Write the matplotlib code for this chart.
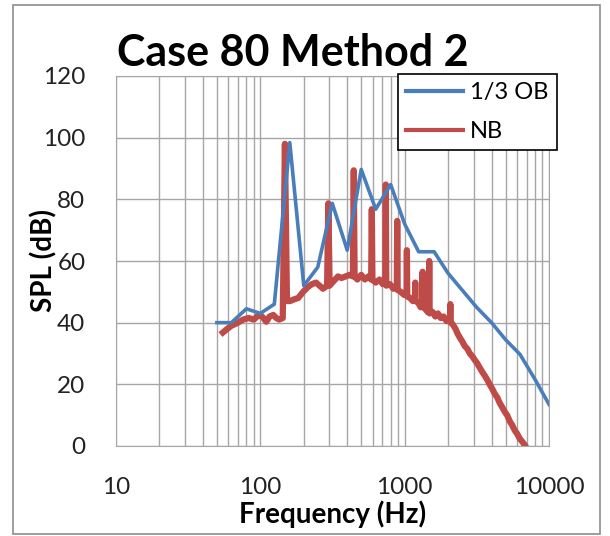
import matplotlib
matplotlib.use('Agg')
import matplotlib.pyplot as plt
from matplotlib.patches import Rectangle
from matplotlib.ticker import LogLocator, NullFormatter, FixedLocator

plt.rcParams['font.family'] = ['Lato', 'DejaVu Sans']

# 1/3 octave band levels
ob_freq = [50, 63, 80, 100, 125, 160, 200, 250, 315, 400, 500, 630, 800, 1000,
           1250, 1600, 2000, 2500, 3150, 4000, 5000, 6300, 8000, 10000]
ob_spl = [40, 40, 44.5, 43, 46, 98.4, 52, 58, 78.7, 63.5, 89.7, 76.8, 84.8, 72,
          63, 63, 56, 50.6, 45, 40, 34.5, 29.7, 21.6, 13.5]

# narrowband spectrum (tonal peaks at blade-pass harmonics)
nb_freq = [55, 59, 63, 70, 76, 83, 90, 95, 100, 105, 110, 116, 123, 129, 135, 143,
           148, 153, 160, 170, 183, 198, 214, 228, 243, 257, 272, 290,
           296, 302, 315, 330, 345, 365, 390, 415, 438,
           444, 450, 470, 500, 530, 560, 586,
           592, 598, 630, 670, 705, 734,
           740, 746, 790, 835, 882,
           888, 894, 940, 990, 1030,
           1036, 1042, 1090, 1140, 1178,
           1184, 1190, 1240, 1290, 1326,
           1332, 1338, 1390, 1440, 1474,
           1480, 1486, 1560, 1630, 1700, 1780, 1860, 1950, 2060,
           2072, 2084, 2150, 2250, 2323, 2420, 2500, 2600, 2719, 2830, 2950, 3070,
           3184, 3320, 3450, 3590, 3730, 3900, 4050, 4200, 4374, 4550, 4750, 4950,
           5128, 5350, 5550, 5800, 6012, 6250, 6500, 6800, 7046]
nb_spl = [36.8, 38, 39, 40, 41, 41.5, 41, 42, 42.5, 41.5, 40.3, 42, 42.5, 41.5, 41, 41.5,
          98, 47, 47, 47.5, 48, 50, 51.6, 52.5, 53, 52, 51, 52,
          78.7, 52, 53, 54, 55, 54.5, 55, 55.5, 55,
          89.4, 55, 54, 55.5, 54, 55, 54,
          76.8, 54, 53, 54, 52.5, 53,
          84.8, 52, 52.5, 51, 51.5,
          73, 50.6, 50, 49, 50,
          63.5, 48.5, 48, 47, 48,
          53, 47, 46.5, 45, 46,
          56.5, 45, 44.5, 43.5, 44,
          60, 43, 43.5, 42, 43, 41.5, 42, 40.5, 41,
          46, 40, 39.5, 38, 36.5, 35, 34, 32.5, 31.5, 30, 29, 27.8,
          26.8, 25.3, 24, 22.8, 21.5, 19.8, 18.5, 17, 15.8, 14, 12.5, 11,
          10, 8, 6.8, 5, 4, 2.5, 1.5, 0.3, -1]

blue = '#4a7ebb'
red = '#be4b48'

fig = plt.figure(figsize=(6.1, 5.36), dpi=100)
fig.patches.append(Rectangle((13 / 610, 2 / 536), 587 / 610, 529 / 536,
                             transform=fig.transFigure, fill=False,
                             edgecolor='#8c8c8c', linewidth=1.2))

ax = fig.add_axes([116 / 610, 1 - 446 / 536, 433 / 610, 370 / 536])
ax.plot(ob_freq, ob_spl, color=blue, linewidth=2.6, label='1/3 OB', zorder=3)
ax.plot(nb_freq, nb_spl, color=red, linewidth=4.5, label='NB', zorder=2)

ax.set_xscale('log')
ax.set_xlim(10, 10000)
ax.set_ylim(0, 120)
ax.yaxis.set_major_locator(FixedLocator([0, 20, 40, 60, 80, 100, 120]))
ax.xaxis.set_major_locator(LogLocator(base=10))
ax.xaxis.set_minor_locator(LogLocator(base=10, subs=range(2, 10)))
ax.xaxis.set_minor_formatter(NullFormatter())
ax.set_xticks([10, 100, 1000, 10000])
ax.set_xticklabels(['10', '100', '1000', '10000'])
ax.grid(True, which='both', axis='x', color='#a6a6a6', linewidth=1)
ax.grid(True, which='major', axis='y', color='#a6a6a6', linewidth=1)
ax.set_axisbelow(True)
for s in ax.spines.values():
    s.set_color('#a6a6a6')
ax.tick_params(which='both', length=0, labelsize=17.5, colors='#222222')
ax.tick_params(axis='x', pad=22)
ax.tick_params(axis='y', pad=22)

ax.set_xlabel('Frequency (Hz)', fontsize=20, fontweight='bold', labelpad=2)
ax.set_ylabel('SPL (dB)', fontsize=20, fontweight='bold', labelpad=-10)

fig.text(117 / 610, 1 - 66 / 536, 'Case 80 Method 2', fontsize=31,
         fontweight='bold', va='baseline', ha='left')

leg = fig.legend(loc='upper left', bbox_to_anchor=(398 / 610, 1 - 74 / 536),
                 fontsize=17, frameon=True, fancybox=False, handlelength=2.4,
                 borderpad=0.35, labelspacing=0.75, handletextpad=0.3,
                 borderaxespad=0)
leg.get_frame().set_edgecolor('black')
leg.get_frame().set_linewidth(1.2)
leg.get_frame().set_alpha(1)
for h in leg.get_lines():
    h.set_linewidth(3)

fig.savefig('out.png', dpi=100)
